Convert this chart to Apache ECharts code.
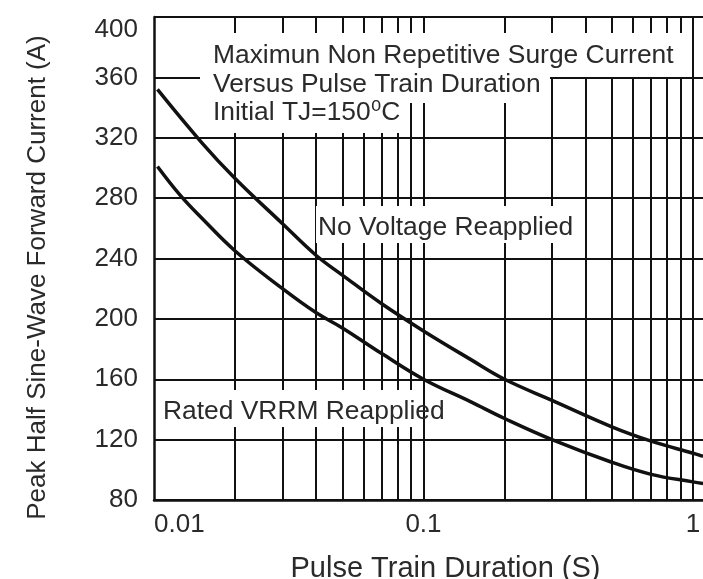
<!DOCTYPE html>
<html><head><meta charset="utf-8">
<script src="https://cdn.jsdelivr.net/npm/echarts@6/dist/echarts.min.js"></script>
<style>html,body{margin:0;padding:0;background:#fff}#c{width:703px;height:579px}</style>
</head><body><div id="c"></div>
<script>
// ---- data ----
const xNoVoltage = [0.0103, 0.015, 0.02, 0.03, 0.04, 0.05, 0.07, 0.1, 0.15, 0.2, 0.3, 0.5, 0.7, 1.0, 1.09];
const yNoVoltage = [352, 317, 293, 263, 242, 229, 210, 192, 173, 160, 146, 128.5, 119, 111, 109];
const xRated = [0.0103, 0.0125, 0.015, 0.02, 0.03, 0.04, 0.05, 0.07, 0.1, 0.15, 0.2, 0.3, 0.5, 0.7, 1.0, 1.09];
const yRated = [301, 282, 267, 245, 220, 204, 194, 177, 160, 145, 134, 120, 105, 97, 92, 91];
const xGridValues = [0.02, 0.03, 0.04, 0.05, 0.06, 0.07, 0.08, 0.09, 0.1, 0.2, 0.3, 0.4, 0.5, 0.6, 0.7, 0.8, 0.9, 1];
const xTickValues = [0.01, 0.1, 1];
const xTickLabels = ['0.01', '0.1', '1'];
const xMin = 0.01, xMax = 1.09;
const yMin = 80, yMax = 400, yStep = 40;
const xTitle = 'Pulse Train Duration (S)';
const yTitle = 'Peak Half Sine-Wave Forward Current (A)';
const notes = ['Maximun Non Repetitive Surge Current', 'Versus Pulse Train Duration', 'Initial TJ=150\u2070C'];
const curveLabels = ['No Voltage Reapplied', 'Rated VRRM Reapplied'];

const FONT = '"Liberation Sans", Arial, "DejaVu Sans", sans-serif';
const TXT = '#2a2a2a';
const LINE = '#111';

function pairs(xs, ys) { return xs.map((x, i) => [x, ys[i]]); }
function labelFor(v) {
  for (let i = 0; i < xTickValues.length; i++) {
    if (Math.abs(Math.log10(v) - Math.log10(xTickValues[i])) < 1e-6) return xTickLabels[i];
  }
  return '';
}

const chart = echarts.init(document.getElementById('c'), null, { renderer: 'canvas' });

function box(x1, y1, x2, y2) {
  return { type: 'rect', z: 100, silent: true, shape: { x: x1, y: y1, width: x2 - x1, height: y2 - y1 }, style: { fill: '#fff' } };
}
function note(text, x, yc) {
  return { type: 'text', z: 101, silent: true, x: x, y: yc,
    style: { text: text, fill: TXT, font: '26.4px ' + FONT, textVerticalAlign: 'middle', textAlign: 'left' } };
}

chart.setOption({
  animation: false,
  backgroundColor: '#fff',
  grid: { left: 154, right: 0, top: 17, bottom: 79, containLabel: false, outerBoundsMode: 'none' },
  xAxis: {
    type: 'log', logBase: 10, min: xMin, max: xMax,
    axisLine: { show: true, lineStyle: { color: LINE, width: 2.5 } },
    axisTick: { show: false },
    splitLine: { show: false },
    minorTick: { show: false }, minorSplitLine: { show: false },
    axisLabel: {
      color: TXT, fontFamily: FONT, fontSize: 26, margin: 12,
      formatter: labelFor, alignMinLabel: 'left', showMinLabel: true, showMaxLabel: false
    },
    name: xTitle, nameLocation: 'middle', nameGap: 54,
    nameTextStyle: { color: TXT, fontFamily: FONT, fontSize: 29, padding: [0, 0, 0, 34] }
  },
  yAxis: {
    type: 'value', min: yMin, max: yMax, interval: yStep,
    axisLine: { show: true, lineStyle: { color: LINE, width: 2.5 } },
    axisTick: { show: false },
    splitLine: { show: true, lineStyle: { color: LINE, width: 2 } },
    axisLabel: { color: TXT, fontFamily: FONT, fontSize: 26, margin: 16, verticalAlignMaxLabel: 'top' },
    name: yTitle, nameLocation: 'middle', nameGap: 103,
    nameTextStyle: { color: TXT, fontFamily: FONT, fontSize: 26, padding: [0, 38, 0, 0] }
  },
  series: [
    {
      name: curveLabels[0], type: 'line', data: pairs(xNoVoltage, yNoVoltage),
      smooth: 0.4, showSymbol: false, symbol: 'none',
      lineStyle: { color: LINE, width: 3.5 }, z: 5,
      markLine: {
        silent: true, symbol: ['none', 'none'], label: { show: false },
        lineStyle: { color: LINE, width: 2, type: 'solid' },
        emphasis: { disabled: true },
        data: xGridValues.map(v => ({ xAxis: v }))
      }
    },
    {
      name: curveLabels[1], type: 'line', data: pairs(xRated, yRated),
      smooth: 0.4, showSymbol: false, symbol: 'none',
      lineStyle: { color: LINE, width: 3.5 }, z: 5
    }
  ],
  graphic: [
    box(200, 33, 688, 77), box(200, 77, 550, 103), box(200, 103, 405, 133),
    box(316, 206, 578, 243), box(156, 390, 420, 427),
    note(notes[0], 213, 56), note(notes[1], 213, 85), note(notes[2], 213, 113),
    note(curveLabels[0], 318, 228), note(curveLabels[1], 163, 412)
  ]
});
</script></body></html>
